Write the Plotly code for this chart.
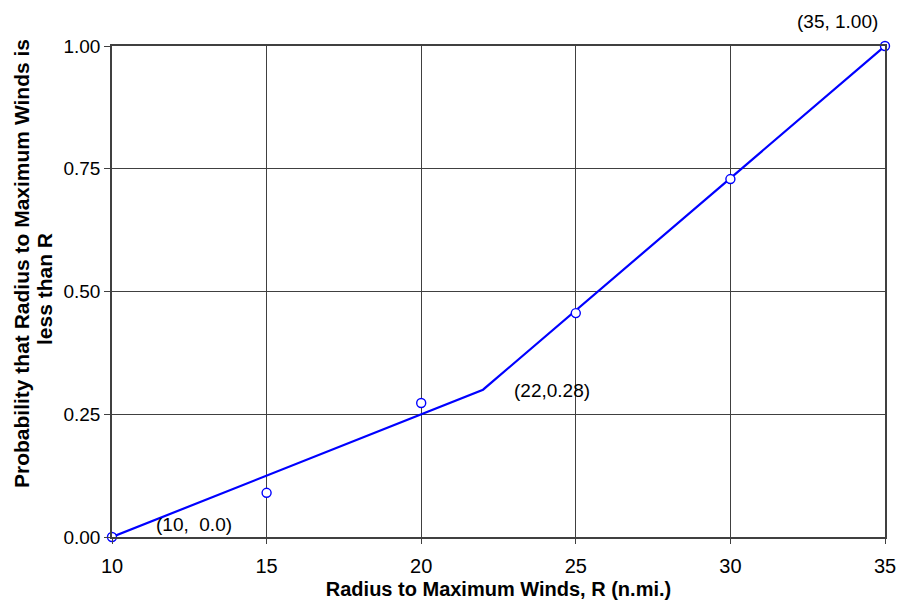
import plotly.graph_objects as go

# Data
obs_r = [10, 15, 20, 25, 30, 35]
obs_p = [0.0, 0.09, 0.273, 0.456, 0.729, 1.0]
fit_r = [10, 22, 35]
fit_p = [0.0, 0.30, 1.0]
x_ticks = [10, 15, 20, 25, 30, 35]
y_ticks = [0.0, 0.25, 0.5, 0.75, 1.0]
labels = [(10, 0.0, "(10,  0.0)"), (22, 0.30, "(22,0.28)"), (35, 1.0, "(35, 1.00)")]
y_title_lines = ["Probability that Radius to Maximum Winds is", "less than R"]
x_title = "Radius to Maximum Winds, R (n.mi.)"

fig = go.Figure()
fig.add_trace(go.Scatter(x=fit_r, y=fit_p, mode="lines",
                         line=dict(color="#0000ff", width=2.2), showlegend=False))
fig.add_trace(go.Scatter(x=obs_r, y=obs_p, mode="markers",
                         marker=dict(symbol="circle", color="white", size=9,
                                     line=dict(width=1.4, color="#0000ff")),
                         showlegend=False, cliponaxis=False))

fig.add_annotation(x=labels[0][0], y=labels[0][1], text=labels[0][2], showarrow=False,
                   xanchor="left", yanchor="middle", xshift=42, yshift=13,
                   font=dict(size=19, color="black"))
fig.add_annotation(x=labels[1][0], y=labels[1][1], text=labels[1][2], showarrow=False,
                   xanchor="left", yanchor="middle", xshift=29, yshift=-1,
                   font=dict(size=19, color="black"))
fig.add_annotation(x=labels[2][0], y=labels[2][1], text=labels[2][2], showarrow=False,
                   xanchor="center", yanchor="middle", xshift=-48, yshift=25,
                   font=dict(size=19, color="black"))

# y-axis title lines (positioned like the original)
fig.add_annotation(xref="paper", yref="paper", x=(21 - 112) / 773, y=(537 - 264) / 491,
                   text="<b>%s</b>" % y_title_lines[0], textangle=-90, showarrow=False,
                   xanchor="center", yanchor="middle", font=dict(size=21, color="black"))
fig.add_annotation(xref="paper", yref="paper", x=(44 - 112) / 773, y=(537 - 289) / 491,
                   text="<b>%s</b>" % y_title_lines[1], textangle=-90, showarrow=False,
                   xanchor="center", yanchor="middle", font=dict(size=21, color="black"))

fig.update_layout(
    width=901, height=610,
    margin=dict(l=112, r=16, t=46, b=73),
    paper_bgcolor="white", plot_bgcolor="white",
    font=dict(family="Liberation Sans, Arial, sans-serif", size=18, color="black"),
    xaxis=dict(range=[10, 35], tickvals=x_ticks, ticktext=[str(v) for v in x_ticks],
               showgrid=True, gridcolor="#404040", gridwidth=1.3,
               showline=True, linecolor="#404040", linewidth=1.5, mirror=True,
               ticks="outside", ticklen=5, tickcolor="#404040",
               tickfont=dict(size=20), ticklabelstandoff=5,
               zeroline=False, automargin=False,
               title=dict(text="<b>%s</b>" % x_title,
                          font=dict(size=20), standoff=6)),
    yaxis=dict(range=[0, 1], tickvals=y_ticks, ticktext=["%.2f" % v for v in y_ticks],
               showgrid=True, gridcolor="#404040", gridwidth=1.3,
               showline=True, linecolor="#404040", linewidth=1.5, mirror=True,
               ticks="outside", ticklen=6, tickcolor="#404040",
               tickfont=dict(size=19), zeroline=False, automargin=False),
)

fig.write_html("out.html", config={"displayModeBar": False},
               post_script="document.body.style.margin='0';")
